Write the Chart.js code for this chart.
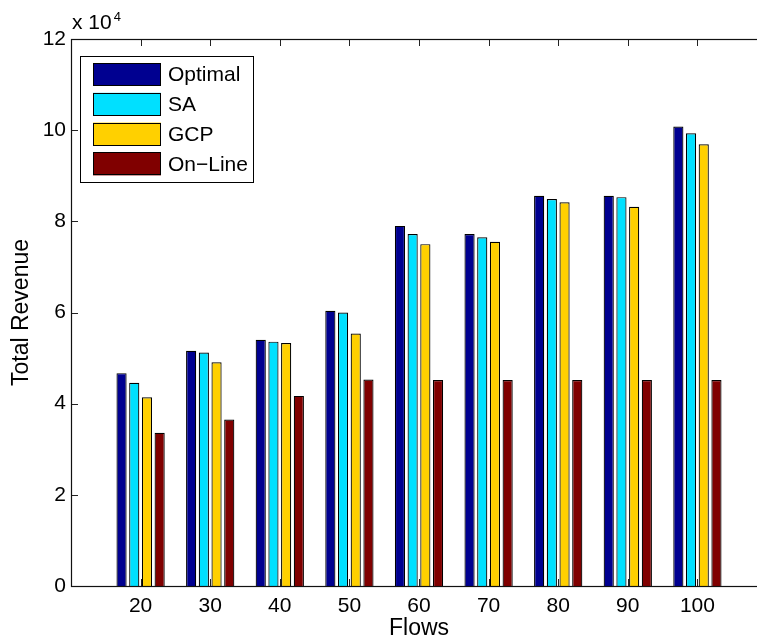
<!DOCTYPE html>
<html>
<head>
<meta charset="utf-8">
<script src="https://cdn.jsdelivr.net/npm/chart.js@4/dist/chart.umd.min.js"></script>
<style>
  html, body { margin: 0; padding: 0; background: #fff; overflow: hidden; }
  #wrap { width: 775px; height: 638px; }
</style>
</head>
<body>
<div id="wrap"><canvas id="c" width="775" height="638"></canvas></div>
<script>
// ---- data ----
const flows = [20, 30, 40, 50, 60, 70, 80, 90, 100];
const seriesNames = ['Optimal', 'SA', 'GCP', 'On\u2212Line'];
const optimal = [46700, 51600, 54000, 60400, 79000, 77200, 85600, 85600, 100800];
const sa      = [44600, 51200, 53600, 60000, 77200, 76500, 84900, 85300, 99300];
const gcp     = [41400, 49100, 53300, 55400, 75000, 75500, 84200, 83200, 96900];
const online  = [33600, 36500, 41700, 45300, 45200, 45200, 45200, 45200, 45200];
const yTickValues = [0, 20000, 40000, 60000, 80000, 100000, 120000];
const exponentBase = 'x 10';
const exponentPow = '4';

const colors = ['#000090', '#00E0FF', '#FFD000', '#800000'];
const FONT = "'Liberation Sans', Arial, Helvetica, sans-serif";

const seriesValues = [optimal, sa, gcp, online];
const datasets = seriesValues.map((vals, i) => ({
  label: seriesNames[i],
  data: vals.map((v, k) => ({ x: flows[k], y: v })),
  backgroundColor: colors[i],
  borderColor: '#000',
  borderWidth: 1.2,
  borderSkipped: 'start',
  categoryPercentage: 0.73,
  barPercentage: 0.8
}));

const matlabAxes = {
  id: 'matlabAxes',
  beforeDatasetsDraw(chart) {
    const ctx = chart.ctx;
    const a = chart.chartArea;
    const xs = chart.scales.x, ys = chart.scales.y;
    ctx.save();
    ctx.strokeStyle = '#222';
    ctx.lineWidth = 1;
    const L = 7;
    ctx.beginPath();
    flows.forEach(v => {
      const px = Math.round(xs.getPixelForValue(v)) + 0.5;
      ctx.moveTo(px, a.bottom); ctx.lineTo(px, a.bottom - L);
      ctx.moveTo(px, a.top); ctx.lineTo(px, a.top + L);
    });
    yTickValues.forEach(v => {
      const py = Math.round(ys.getPixelForValue(v)) + 0.5;
      ctx.moveTo(a.left, py); ctx.lineTo(a.left + L, py);
    });
    ctx.stroke();
    ctx.restore();
  },
  afterDraw(chart) {
    const ctx = chart.ctx;
    const a = chart.chartArea;
    ctx.save();
    // frame
    ctx.strokeStyle = '#111';
    ctx.lineWidth = 1.2;
    const l = Math.round(a.left) + 0.5, t = Math.round(a.top) + 0.5;
    const b = Math.round(a.bottom) + 0.5, r = Math.round(a.right) - 0.5;
    ctx.strokeRect(l, t, r - l, b - t);

    // exponent label
    ctx.fillStyle = '#000';
    ctx.textBaseline = 'alphabetic';
    ctx.textAlign = 'left';
    ctx.font = '21px ' + FONT;
    ctx.fillText(exponentBase, a.left + 1, 29);
    const w = ctx.measureText(exponentBase).width;
    ctx.font = '13px ' + FONT;
    ctx.fillText(exponentPow, a.left + 1 + w + 2, 21);

    // legend
    const bx = 80.5, by = 56.5, bw = 173, bh = 126;
    ctx.fillStyle = '#fff';
    ctx.fillRect(bx, by, bw, bh);
    ctx.strokeStyle = '#000';
    ctx.lineWidth = 1;
    ctx.strokeRect(bx, by, bw, bh);
    ctx.font = '21px ' + FONT;
    ctx.textBaseline = 'middle';
    chart.data.datasets.forEach((ds, i) => {
      const sy = 63 + i * 29.8;
      ctx.fillStyle = ds.backgroundColor;
      ctx.fillRect(93, sy, 68, 23);
      ctx.strokeStyle = '#000';
      ctx.strokeRect(93.5, Math.round(sy) + 0.5, 67, 22);
      ctx.fillStyle = '#000';
      ctx.fillText(ds.label, 168, sy + 12.5);
    });
    ctx.restore();
  }
};

new Chart(document.getElementById('c'), {
  type: 'bar',
  data: { datasets },
  options: {
    responsive: false,
    animation: false,
    devicePixelRatio: 1,
    layout: { padding: { top: 39, right: 0, bottom: 0, left: 0 } },
    plugins: { legend: { display: false }, tooltip: { enabled: false } },
    scales: {
      x: {
        type: 'linear',
        min: 10, max: 110,
        offset: false,
        grid: { display: false, drawTicks: false },
        border: { display: false },
        ticks: {
          stepSize: 10,
          autoSkip: false,
          maxRotation: 0,
          padding: 8,
          color: '#000',
          font: { family: FONT, size: 21 },
          callback: v => flows.includes(v) ? String(v) : ''
        },
        title: {
          display: true,
          text: 'Flows',
          color: '#000',
          font: { family: FONT, size: 23, lineHeight: 0.8 },
          padding: 0
        },
        afterFit: s => { s.height = 52; }
      },
      y: {
        min: 0, max: 120000,
        grid: { display: false, drawTicks: false },
        border: { display: false },
        ticks: {
          stepSize: 20000,
          padding: 5,
          color: '#000',
          font: { family: FONT, size: 21 },
          callback: v => yTickValues.includes(v) ? String(v / 10000) : ''
        },
        title: {
          display: true,
          text: 'Total Revenue',
          color: '#000',
          font: { family: FONT, size: 23 },
          padding: { top: 8, bottom: 0 }
        },
        afterFit: s => { s.width = 71; }
      }
    }
  },
  plugins: [matlabAxes]
});
</script>
</body>
</html>
